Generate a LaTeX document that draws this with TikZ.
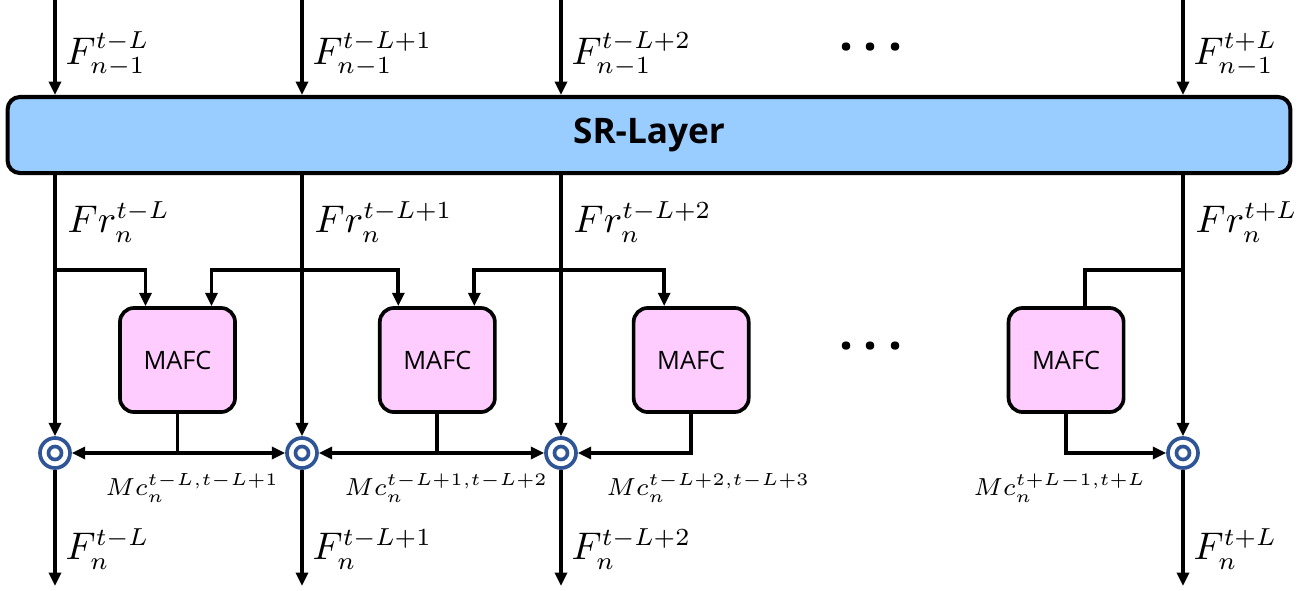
\documentclass[tikz,border=0pt]{standalone}
\usepackage{fontspec}
\setsansfont{Open Sans}
\usetikzlibrary{arrows.meta,positioning,calc}

\definecolor{srblue}{RGB}{153,204,255}
\definecolor{mafcpink}{RGB}{255,204,255}
\definecolor{fuseblue}{RGB}{47,85,151}

\tikzset{
  wire/.style={line width=1.05pt},
  arr/.style={wire, -{Triangle[length=3.8pt,width=3.4pt]}},
  srlayer/.style={draw, line width=1.15pt, fill=srblue, rounded corners=3.5pt,
    minimum width=12.82cm, minimum height=0.76cm,
    font=\sffamily\bfseries\fontsize{10}{11}\selectfont},
  mafc/.style={draw, line width=1.05pt, fill=mafcpink, rounded corners=4pt,
    minimum width=1.15cm, minimum height=1.04cm,
    font=\sffamily\fontsize{7.2}{8}\selectfont},
  fuse/.style={circle, draw=fuseblue, line width=1.05pt, minimum size=0.3cm, inner sep=0pt,
    path picture={\draw[fuseblue, line width=1.05pt] (path picture bounding box.center) circle (0.065cm);}},
  lbl/.style={anchor=west, inner sep=0pt, font=\fontsize{10.5}{12}\selectfont},
  mclbl/.style={anchor=west, inner sep=0pt, font=\fontsize{7.3}{9}\selectfont},
  more/.style={inner sep=0pt, font=\sffamily\bfseries\fontsize{14}{14}\selectfont},
}

\begin{document}
\begin{tikzpicture}[x=0.01cm, y=-0.01cm]
  \useasboundingbox (0,0) rectangle (1302,590);
  \node[srlayer] (SR) at (649,135) {SR-Layer};
  \coordinate (top) at (0,0);
  \coordinate (row) at (0,270);
  \coordinate (bot) at (0,586);

  \node[fuse] (c1) at (55,453) {};
  \node[fuse] (c2) at (302,453) {};
  \node[fuse] (c3) at (561,453) {};
  \node[fuse] (c4) at (1183,453) {};

  \node[mafc] (m1) at (177.5,360) {MAFC};
  \node[mafc, right=1.41cm of m1] (m2) {MAFC};
  \node[mafc, right=1.35cm of m2] (m3) {MAFC};
  \node[mafc, right=2.56cm of m3] (m4) {MAFC};

  \foreach \c/\s in {1/{t-L},2/{t-L+1},3/{t-L+2},4/{t+L}} {
    \draw[arr] (c\c |- top) -- (c\c |- SR.north);
    \draw[arr] (c\c |- SR.south) -- (c\c);
    \draw[arr] (c\c) -- (c\c |- bot);
    \node[lbl] at ($(c\c |- top)+(10,54)$) {$F_{n-1}^{\s}$};
    \node[lbl] at ($(c\c |- top)+(12,222)$) {$Fr_{n}^{\s}$};
    \node[lbl] at ($(c\c |- top)+(10,549)$) {$F_{n}^{\s}$};
  }

  % Fr -> MAFC
  \draw[arr] (c1 |- row) -| ([shift={(-32,0)}]m1.north);
  \draw[arr] (c2 |- row) -| ([shift={(34,0)}]m1.north);
  \draw[arr] (c2 |- row) -| ([shift={(-39,0)}]m2.north);
  \draw[arr] (c3 |- row) -| ([shift={(37,0)}]m2.north);
  \draw[arr] (c3 |- row) -| ([shift={(-27,0)}]m3.north);
  \draw[wire] (c4 |- row) -| ([shift={(19,0)}]m4.north);

  \draw[arr] (m1.south) |- (c1);
  \draw[arr] (m1.south) |- (c2);
  \draw[arr] (m2.south) |- (c2);
  \draw[arr] (m2.south) |- (c3);
  \draw[arr] (m3.south) |- (c3);
  \draw[arr] (m4.south) |- (c4);

  \node[mclbl] (mc1) at (105,488) {$Mc_{n}^{t-L,t-L+1}$};
  \node[mclbl] (mc2) at (344,488) {$Mc_{n}^{t-L+1,t-L+2}$};
  \node[mclbl] (mc3) at (606,488) {$Mc_{n}^{t-L+2,t-L+3}$};
  \node[mclbl] (mc4) at (973,488) {$Mc_{n}^{t+L-1,t+L}$};

  \node[more] (moreA) at (871,47) {.\hspace{3pt}.\hspace{3pt}.};
  \node[more] (moreB) at (871,346) {.\hspace{3pt}.\hspace{3pt}.};
\end{tikzpicture}
\end{document}
